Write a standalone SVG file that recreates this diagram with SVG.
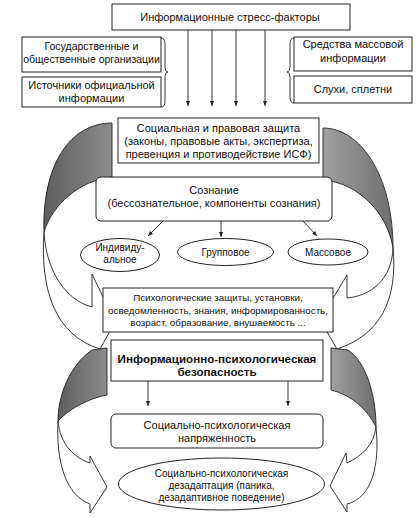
<svg xmlns="http://www.w3.org/2000/svg" width="416" height="518" viewBox="0 0 416 518">
<style>
.box{fill:#fff;stroke:#222;stroke-width:1}
.band{fill:#fff;stroke:#222;stroke-width:0.9}
.dark{stroke:#222;stroke-width:0.9}
.ln{fill:none;stroke:#222;stroke-width:0.9}
text{font-family:"Liberation Sans",Arial,sans-serif;fill:#111;text-anchor:middle}
.t11{font-size:11px}
.t105{font-size:10.5px}
.t10{font-size:10px}
.t98{font-size:9.8px}
.tb{font-size:11.6px;font-weight:bold}
</style>
<defs>
<marker id="ah" viewBox="0 0 10 10" refX="10" refY="5" markerWidth="5" markerHeight="5" orient="auto" markerUnits="userSpaceOnUse">
<path d="M0,1 L10,5 L0,9 Z" fill="#222"/>
</marker>
<linearGradient id="gL" x1="0" y1="0" x2="1" y2="0">
<stop offset="0" stop-color="#5e5e5e"/>
<stop offset="1" stop-color="#8c8c8c"/>
</linearGradient>
<linearGradient id="gR" x1="0" y1="0" x2="1" y2="0">
<stop offset="0" stop-color="#a0a0a0"/>
<stop offset="1" stop-color="#6e6e6e"/>
</linearGradient>
</defs>

<g id="curved-arrows">
<path class="band" d="M44,232 C40,290 55,335 100,349 L115,322 L92,274 L92,307 C65,300 46,270 44,232 Z"/>
<path class="dark" fill="url(#gL)" d="M112,123 C70,123 42,165 44,232 C52,205 80,180 112,177 Z"/>
<path class="band" d="M58,421 C56,460 65,495 90,504 L90,513 L107,487 L90,456 L90,463 C75,458 60,445 58,421 Z"/>
<path class="dark" fill="url(#gL)" d="M92,350 L107,348 L107,395 C90,398 70,408 58,421 C58,395 70,365 92,350 Z"/>
<path class="band" d="M393,248 C398,300 380,335 337,349 L320,320 L347,275 L347,298 C370,296 392,280 393,248 Z"/>
<path class="dark" fill="url(#gR)" d="M323,128 C360,128 393,175 393,248 C388,215 360,183 323,180 Z"/>
<path class="band" d="M376,427 C380,465 372,498 347,504 L347,512 L330,486 L346,453 L347,463 C362,456 374,445 376,427 Z"/>
<path class="dark" fill="url(#gR)" d="M331,348 L348,350 C366,362 376,395 376,427 C368,410 352,395 331,390 Z"/>
</g>

<g id="connectors" class="ln">
<line x1="188" y1="30" x2="188" y2="106" marker-end="url(#ah)"/>
<line x1="212" y1="30" x2="212" y2="106" marker-end="url(#ah)"/>
<line x1="236" y1="30" x2="236" y2="106" marker-end="url(#ah)"/>
<line x1="265" y1="30" x2="265" y2="106" marker-end="url(#ah)"/>
<line x1="163" y1="221" x2="148" y2="236" marker-end="url(#ah)"/>
<line x1="221" y1="221" x2="221" y2="237" marker-end="url(#ah)"/>
<line x1="303" y1="221" x2="317" y2="236" marker-end="url(#ah)"/>
<line x1="148" y1="381" x2="148" y2="406" marker-end="url(#ah)"/>
<line x1="288" y1="381" x2="288" y2="406" marker-end="url(#ah)"/>
<path d="M161,38 Q165,38 165,44 L165,66 Q165,72 168,72 Q165,72 165,78 L165,101 Q165,107 161,107"/>
<path d="M294,38 Q290,38 290,44 L290,66 Q290,72 287,72 Q290,72 290,78 L290,97 Q290,103 294,103"/>
</g>

<g id="n-stress">
<rect class="box" x="112" y="4" width="238" height="26"/>
<text class="t11" x="230" y="21">Информационные стресс-факторы</text>
</g>
<g id="n-gov">
<rect class="box" x="22" y="37" width="139" height="35"/>
<text class="t105" x="91.5" y="50">Государственные и</text>
<text class="t105" x="91.5" y="63">общественные организации</text>
</g>
<g id="n-official">
<rect class="box" x="22" y="77" width="139" height="30"/>
<text class="t11" x="91.5" y="89">Источники официальной</text>
<text class="t11" x="91.5" y="102">информации</text>
</g>
<g id="n-media">
<rect class="box" x="294" y="37" width="118" height="34"/>
<text class="t11" x="353" y="48">Средства массовой</text>
<text class="t11" x="353" y="62">информации</text>
</g>
<g id="n-rumors">
<rect class="box" x="294" y="76" width="118" height="27"/>
<text class="t11" x="353" y="93">Слухи, сплетни</text>
</g>
<g id="n-protection">
<rect class="box" x="118" y="118" width="201" height="45"/>
<text class="t11" x="218.5" y="132">Социальная и правовая защита</text>
<text class="t11" x="218.5" y="145">(законы, правовые акты, экспертиза,</text>
<text class="t11" x="218.5" y="158">превенция и противодействие ИСФ)</text>
</g>
<g id="n-consciousness">
<rect class="box" x="96" y="177" width="236" height="44" rx="5"/>
<text class="t11" x="214" y="194">Сознание</text>
<text class="t11" x="214" y="207">(бессознательное, компоненты сознания)</text>
</g>
<g id="n-individual">
<ellipse class="box" cx="120" cy="255" rx="39.5" ry="16.5"/>
<text class="t10" x="120" y="251">Индивиду-</text>
<text class="t10" x="120" y="263">альное</text>
</g>
<g id="n-group">
<ellipse class="box" cx="225.5" cy="252" rx="48" ry="13.5"/>
<text class="t10" x="225.5" y="255.5">Групповое</text>
</g>
<g id="n-mass">
<ellipse class="box" cx="328" cy="252" rx="40" ry="13"/>
<text class="t10" x="328" y="255.5">Массовое</text>
</g>
<g id="n-defenses">
<rect class="box" x="103" y="288" width="230" height="44"/>
<text class="t98" x="218" y="300.5">Психологические защиты, установки,</text>
<text class="t98" x="218" y="313.5">осведомленность, знания, информированность,</text>
<text class="t98" x="218" y="326">возраст, образование, внушаемость ...</text>
</g>
<g id="n-security">
<rect class="box" x="111" y="340" width="212" height="41"/>
<text class="tb" x="217" y="363">Информационно-психологическая</text>
<text class="tb" x="217" y="376">безопасность</text>
</g>
<g id="n-tension">
<rect class="box" x="111" y="414" width="212" height="34" rx="5"/>
<text class="t11" x="217" y="429">Социально-психологическая</text>
<text class="t11" x="217" y="442">напряженность</text>
</g>
<g id="n-disadaptation">
<ellipse class="box" cx="221.5" cy="484" rx="103" ry="26"/>
<text class="t10" x="221.5" y="476.5">Социально-психологическая</text>
<text class="t10" x="221.5" y="488.5">дезадаптация (паника,</text>
<text class="t10" x="221.5" y="500.5">дезадаптивное поведение)</text>
</g>
</svg>
